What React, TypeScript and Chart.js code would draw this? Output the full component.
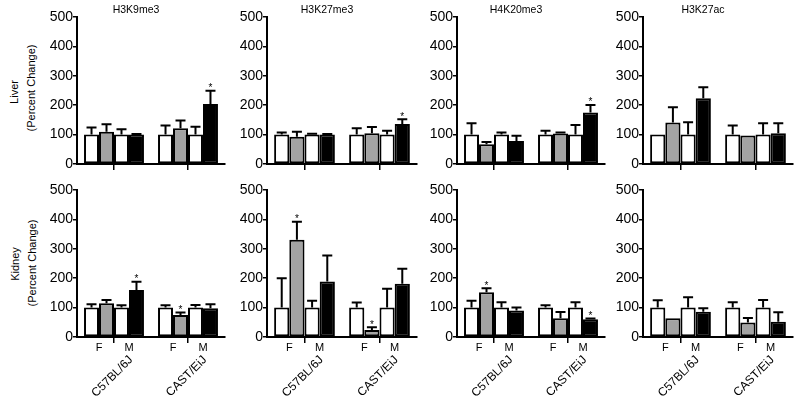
import React, { useEffect, useRef } from "react";
import { Chart, registerables } from "chart.js";

Chart.register(...registerables);

const FONT = "'Liberation Sans', Arial, Helvetica, sans-serif";

// ---------- data ----------
const strains = ["C57BL/6J", "CAST/EiJ"];
const sexes = ["F", "M"];
const histoneMarks = ["H3K9me3", "H3K27me3", "H4K20me3", "H3K27ac"];
const tissues = ["Liver", "Kidney"];
const yAxisLabel = "(Percent Change)";
const yMajorTicks = [0, 100, 200, 300, 400, 500];
const yMinorTicks = [50, 150, 250, 350, 450];
const seriesNames = ["F control", "F treated", "M control", "M treated"];
const seriesColors = ["#ffffff", "#a3a3a3", "#ffffff", "#000000"];

// order: C57BL/6J [F ctrl, F trt, M ctrl, M trt], CAST/EiJ [F ctrl, F trt, M ctrl, M trt]
const liverH3K9me3Mean = [100, 110, 100, 100, 100, 122, 100, 204];
const liverH3K9me3Err = [24, 25, 18, 2, 31, 26, 27, 45];
const liverH3K9me3Sig = [7];

const liverH3K27me3Mean = [100, 93, 100, 100, 100, 105, 100, 136];
const liverH3K27me3Err = [7, 17, 3, 2, 22, 21, 13, 16];
const liverH3K27me3Sig = [7];

const liverH4K20me3Mean = [100, 67, 100, 78, 100, 104, 100, 175];
const liverH4K20me3Err = [39, 8, 7, 18, 13, 3, 33, 26];
const liverH4K20me3Sig = [7];

const liverH3K27acMean = [100, 141, 100, 224, 100, 97, 100, 105];
const liverH3K27acErr = [0, 52, 42, 37, 31, 0, 39, 34];
const liverH3K27acSig: number[] = [];

const kidneyH3K9me3Mean = [100, 115, 100, 160, 100, 75, 100, 98];
const kidneyH3K9me3Err = [11, 11, 8, 28, 8, 8, 9, 13];
const kidneyH3K9me3Sig = [3, 5];

const kidneyH3K27me3Mean = [100, 331, 100, 189, 100, 24, 100, 181];
const kidneyH3K27me3Err = [100, 61, 23, 88, 17, 9, 64, 51];
const kidneyH3K27me3Sig = [1, 5];

const kidneyH4K20me3Mean = [100, 152, 100, 90, 100, 64, 100, 60];
const kidneyH4K20me3Err = [23, 14, 18, 10, 8, 21, 18, 3];
const kidneyH4K20me3Sig = [1, 7];

const kidneyH3K27acMean = [100, 64, 100, 86, 100, 49, 100, 52];
const kidneyH3K27acErr = [25, 0, 35, 12, 18, 16, 26, 32];
const kidneyH3K27acSig: number[] = [];

const panelData = [
  [
    [liverH3K9me3Mean, liverH3K9me3Err, liverH3K9me3Sig],
    [liverH3K27me3Mean, liverH3K27me3Err, liverH3K27me3Sig],
    [liverH4K20me3Mean, liverH4K20me3Err, liverH4K20me3Sig],
    [liverH3K27acMean, liverH3K27acErr, liverH3K27acSig],
  ],
  [
    [kidneyH3K9me3Mean, kidneyH3K9me3Err, kidneyH3K9me3Sig],
    [kidneyH3K27me3Mean, kidneyH3K27me3Err, kidneyH3K27me3Sig],
    [kidneyH4K20me3Mean, kidneyH4K20me3Err, kidneyH4K20me3Sig],
    [kidneyH3K27acMean, kidneyH3K27acErr, kidneyH3K27acSig],
  ],
];

// ---------- layout ----------
const AXIS_X = [77, 267, 457, 643];
const AXIS_END = [225, 417, 605, 793];
const Y_AXIS_W = 50;
const RIGHT_PAD = 6;
const ROWS = [
  { top: 0, height: 180, padTop: 17, xH: 16 },
  { top: 175, height: 226, padTop: 15, xH: 64 },
];
const ROW_LABEL_POS = [
  { a: [14, 92], b: [31, 88] },
  { a: [15, 264], b: [32, 263] },
];

type PanelProps = { row: number; col: number };

function Panel({ row, col }: PanelProps) {
  const ref = useRef<HTMLCanvasElement | null>(null);
  const r = ROWS[row];
  const left = AXIS_X[col] - Y_AXIS_W;
  const width = AXIS_END[col] - AXIS_X[col] + Y_AXIS_W + RIGHT_PAD;
  const [mean, err, sig] = panelData[row][col] as [number[], number[], number[]];
  const showTitle = row === 0;
  const showXLabels = row === 1;

  useEffect(() => {
    if (!ref.current) return;
    const datasets = seriesNames.map((name, k) => ({
      label: name,
      data: strains.map((_, c) => mean[c * 4 + k]),
      backgroundColor: seriesColors[k],
      borderColor: "#000",
      borderWidth: 2,
      borderSkipped: false as const,
      categoryPercentage: 0.81,
      barPercentage: 1.0,
    }));

    const annot = {
      id: "annot",
      afterDatasetsDraw(chart: any) {
        const ctx = chart.ctx as CanvasRenderingContext2D;
        const ys = chart.scales.y;
        const xs = chart.scales.x;
        const area = chart.chartArea;
        ctx.save();
        ctx.strokeStyle = "#000";
        ctx.fillStyle = "#000";
        ctx.lineWidth = 2;
        for (let k = 0; k < seriesNames.length; k++) {
          const meta = chart.getDatasetMeta(k);
          meta.data.forEach((el: any, c: number) => {
            const idx = c * 4 + k;
            const m = mean[idx];
            const e = err[idx];
            const top = ys.getPixelForValue(m + e);
            if (e > 0) {
              ctx.beginPath();
              ctx.moveTo(el.x, el.y);
              ctx.lineTo(el.x, top);
              ctx.moveTo(el.x - 5, top);
              ctx.lineTo(el.x + 5, top);
              ctx.stroke();
            }
            if (sig.includes(idx)) {
              ctx.font = `10px ${FONT}`;
              ctx.textAlign = "center";
              ctx.textBaseline = "alphabetic";
              ctx.fillText("*", el.x, top + 0.5);
            }
          });
        }
        if (showTitle) {
          ctx.font = `10.5px ${FONT}`;
          ctx.textAlign = "center";
          ctx.textBaseline = "middle";
          ctx.fillText(histoneMarks[col], (area.left + area.right) / 2 - 15, 10);
        }
        if (showXLabels) {
          const metas = [0, 1, 2, 3].map((k) => chart.getDatasetMeta(k));
          strains.forEach((s, c) => {
            ctx.font = `11px ${FONT}`;
            ctx.textAlign = "center";
            ctx.textBaseline = "middle";
            const fx = (metas[0].data[c].x + metas[1].data[c].x) / 2;
            const mx = (metas[2].data[c].x + metas[3].data[c].x) / 2;
            ctx.fillText(sexes[0], fx, area.bottom + 11);
            ctx.fillText(sexes[1], mx, area.bottom + 11);
            const cx = xs.getPixelForValue(c);
            ctx.save();
            ctx.translate(cx + 17, area.bottom + 21);
            ctx.rotate(-Math.PI / 4);
            ctx.font = `12px ${FONT}`;
            ctx.textAlign = "right";
            ctx.textBaseline = "middle";
            ctx.fillText(s, 0, 0);
            ctx.restore();
          });
        }
        ctx.restore();
      },
    };

    const chart = new Chart(ref.current, {
      type: "bar",
      data: { labels: strains, datasets },
      options: {
        responsive: false,
        animation: false,
        devicePixelRatio: 1,
        layout: { padding: { left: 0, right: RIGHT_PAD, top: r.padTop, bottom: 0 } },
        plugins: { legend: { display: false }, tooltip: { enabled: false }, title: { display: false } },
        scales: {
          x: {
            type: "category",
            offset: true,
            grid: {
              display: true,
              drawOnChartArea: false,
              drawTicks: true,
              tickLength: 6,
              color: "#000",
              lineWidth: 1.5,
              offset: false,
            },
            border: { display: true, color: "#000", width: 2 },
            ticks: { display: false },
            afterFit: (s: any) => {
              s.height = r.xH;
            },
          },
          y: {
            type: "linear",
            min: 0,
            max: 500,
            afterBuildTicks: (s: any) => {
              s.ticks = [...yMajorTicks, ...yMinorTicks]
                .sort((a, b) => a - b)
                .map((v) => ({ value: v }));
            },
            ticks: {
              color: "#000",
              font: { family: FONT, size: 14 },
              padding: 0,
              callback: (v: any) => (yMajorTicks.includes(Number(v)) ? String(v) : ""),
            },
            grid: {
              display: true,
              drawOnChartArea: false,
              drawTicks: true,
              tickLength: 4,
              color: "#000",
              lineWidth: 1.5,
            },
            border: { display: true, color: "#000", width: 2 },
            afterFit: (s: any) => {
              s.width = Y_AXIS_W;
            },
          },
        },
      },
      plugins: [annot],
    } as any);
    return () => chart.destroy();
  }, []);

  return (
    <canvas
      ref={ref}
      width={width}
      height={r.height}
      style={{ position: "absolute", left, top: r.top, width, height: r.height }}
    />
  );
}

function RowLabel({ text, x, y }: { text: string; x: number; y: number }) {
  return (
    <div
      style={{
        position: "absolute",
        left: x,
        top: y,
        transform: "translate(-50%, -50%) rotate(-90deg)",
        font: `11px ${FONT}`,
        color: "#000",
        whiteSpace: "nowrap",
        lineHeight: "12px",
      }}
    >
      {text}
    </div>
  );
}

export default function App() {
  return (
    <div
      style={{
        position: "fixed",
        left: 0,
        top: 0,
        width: 800,
        height: 401,
        background: "#fff",
        overflow: "hidden",
      }}
    >
      {tissues.map((t, row) => (
        <React.Fragment key={t}>
          <RowLabel text={t} x={ROW_LABEL_POS[row].a[0]} y={ROW_LABEL_POS[row].a[1]} />
          <RowLabel text={yAxisLabel} x={ROW_LABEL_POS[row].b[0]} y={ROW_LABEL_POS[row].b[1]} />
        </React.Fragment>
      ))}
      {[0, 1].map((row) =>
        [0, 1, 2, 3].map((col) => <Panel key={`${row}-${col}`} row={row} col={col} />)
      )}
    </div>
  );
}
